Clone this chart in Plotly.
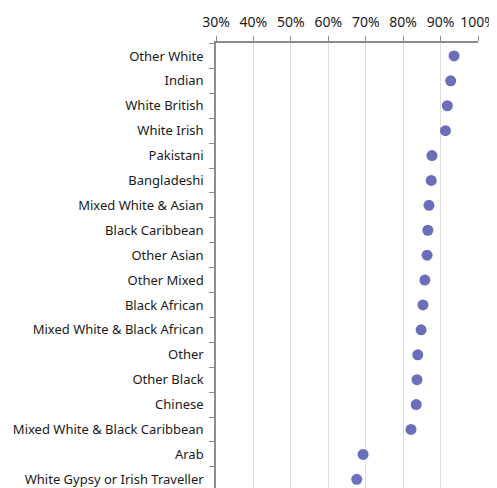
import plotly.graph_objects as go

categories = [
    "Other White", "Indian", "White British", "White Irish", "Pakistani",
    "Bangladeshi", "Mixed White & Asian", "Black Caribbean", "Other Asian",
    "Other Mixed", "Black African", "Mixed White & Black African", "Other",
    "Other Black", "Chinese", "Mixed White & Black Caribbean", "Arab",
    "White Gypsy or Irish Traveller",
]
values = [93.6, 92.7, 91.8, 91.3, 87.7, 87.5, 86.9, 86.6, 86.4, 85.8, 85.3,
          84.8, 83.9, 83.7, 83.5, 82.1, 69.3, 67.6]
tick_vals = [30, 40, 50, 60, 70, 80, 90, 100]
tick_text = ["30%", "40%", "50%", "60%", "70%", "80%", "90%", "100%"]

fig = go.Figure(go.Scatter(
    x=values, y=categories, mode="markers",
    marker=dict(color="#6b6fb9", size=11, line=dict(width=0)),
    hoverinfo="x+y",
))

# page body has an 8px default margin, so the figure is sized/offset for that
fig.update_layout(
    width=489, height=480,
    margin=dict(l=208, r=19, t=35, b=0),
    paper_bgcolor="white", plot_bgcolor="white",
    showlegend=False,
    font=dict(family="Noto Sans, Open Sans, sans-serif", size=13, color="#1a1a1a"),
    xaxis=dict(
        side="top", range=[30, 100], tickvals=tick_vals, ticktext=tick_text,
        showgrid=True, gridcolor="#dcdcdc", gridwidth=1,
        showline=True, linecolor="#8c8c8c", linewidth=1.5,
        ticks="outside", ticklen=5, tickcolor="#8c8c8c",
        tickfont=dict(size=14, color="#1a1a1a"), zeroline=False,
        ticklabelstandoff=4,
    ),
    yaxis=dict(
        type="category", categoryorder="array", categoryarray=categories,
        range=[17.35, -0.52],
        showgrid=False, showline=True, linecolor="#8c8c8c", linewidth=1.5,
        ticks="outside", ticklen=5, tickcolor="#8c8c8c", tickson="boundaries",
        tickfont=dict(size=13, color="#1a1a1a"), ticklabelstandoff=8,
    ),
)

fig.write_html("out.html")
